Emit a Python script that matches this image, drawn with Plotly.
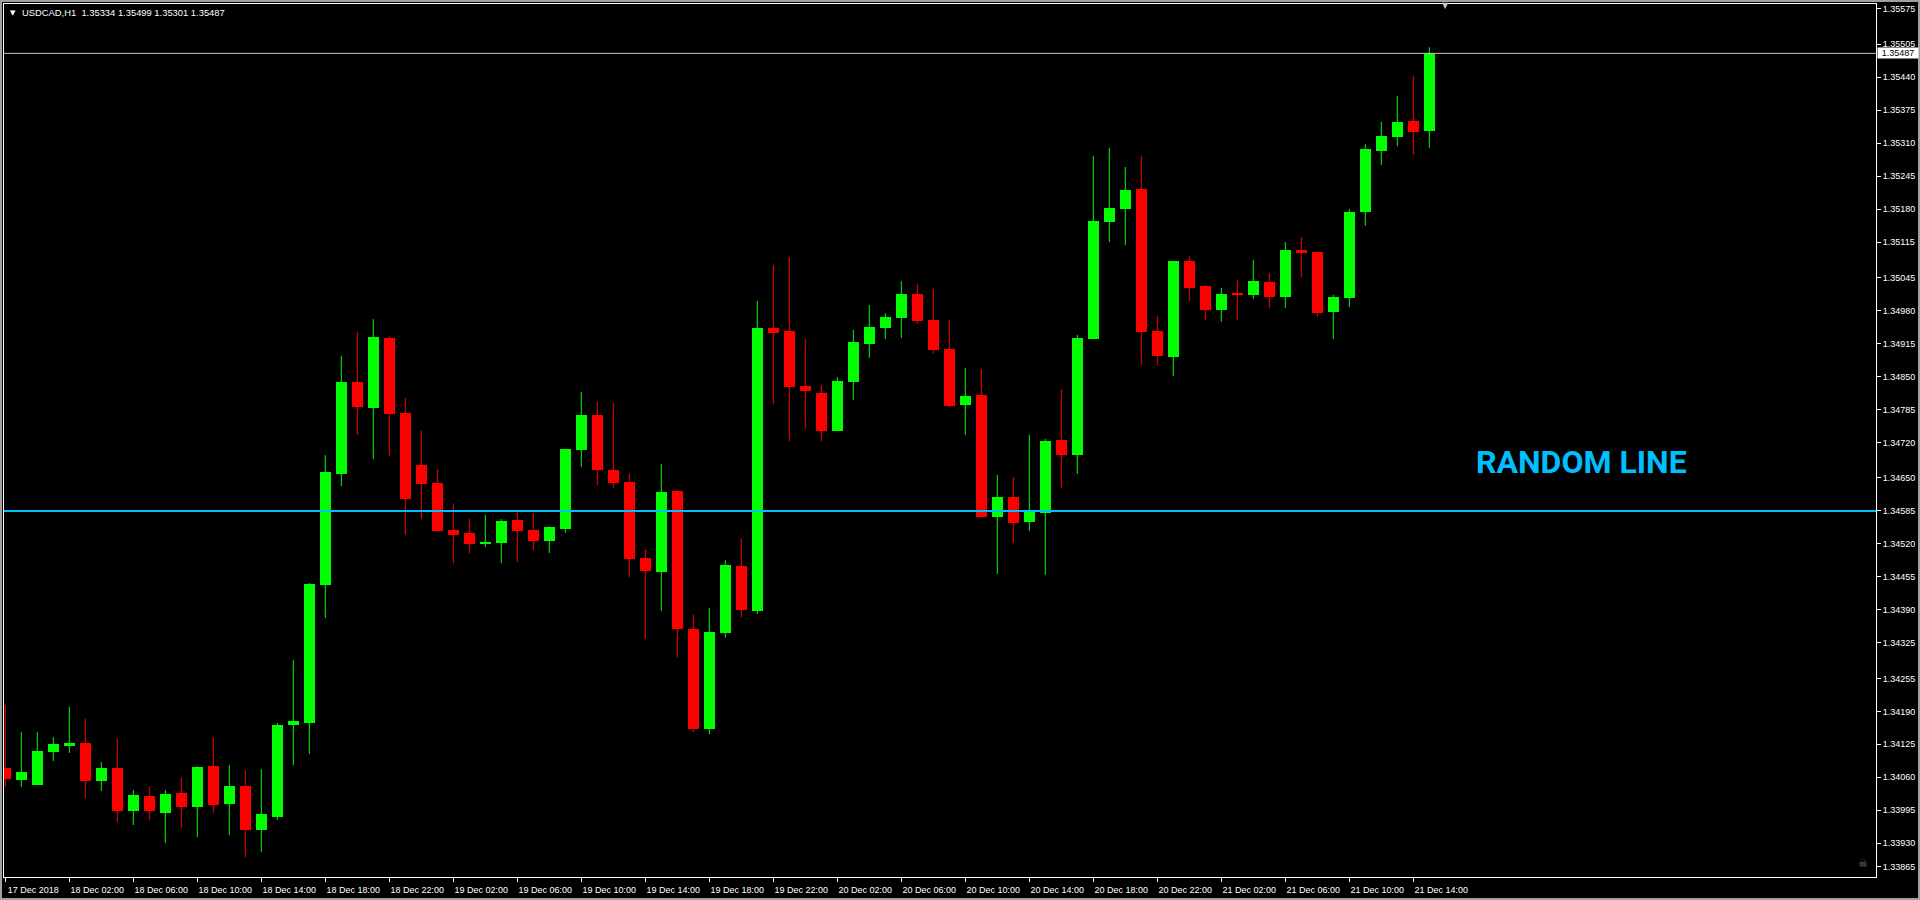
import pandas as pd
import plotly.graph_objects as go

symbol = "USDCAD,H1"
first_bar = "2018-12-17 22:00"

opens = [
    1.34078, 1.34055, 1.34045, 1.34110, 1.34122, 1.34128, 1.34053, 1.34078, 1.33994, 1.34023,
    1.33990, 1.34029, 1.34001, 1.34082, 1.34007, 1.34043, 1.33956, 1.33982, 1.34163, 1.34167,
    1.34439, 1.34658, 1.34839, 1.34788, 1.34926, 1.34778, 1.34676, 1.34640, 1.34548, 1.34542,
    1.34520, 1.34522, 1.34567, 1.34548, 1.34526, 1.34549, 1.34705, 1.34774, 1.34666, 1.34642,
    1.34492, 1.34465, 1.34624, 1.34352, 1.34155, 1.34344, 1.34477, 1.34388, 1.34946, 1.34940,
    1.34831, 1.34818, 1.34743, 1.34839, 1.34914, 1.34946, 1.34965, 1.35013, 1.34961, 1.34904,
    1.34794, 1.34814, 1.34573, 1.34613, 1.34563, 1.34581, 1.34725, 1.34695, 1.34924, 1.35155,
    1.35180, 1.35220, 1.34940, 1.34889, 1.35078, 1.35028, 1.34981, 1.35015, 1.35011, 1.35036,
    1.35007, 1.35099, 1.35096, 1.34977, 1.35005, 1.35174, 1.35295, 1.35322, 1.35354, 1.35334,
]
highs = [
    1.34203, 1.34149, 1.34149, 1.34139, 1.34199, 1.34175, 1.34090, 1.34136, 1.34035, 1.34041,
    1.34035, 1.34059, 1.34082, 1.34138, 1.34084, 1.34074, 1.34076, 1.34167, 1.34291, 1.34443,
    1.34695, 1.34891, 1.34938, 1.34963, 1.34930, 1.34808, 1.34743, 1.34668, 1.34599, 1.34569,
    1.34577, 1.34569, 1.34587, 1.34581, 1.34555, 1.34707, 1.34820, 1.34800, 1.34798, 1.34658,
    1.34510, 1.34678, 1.34626, 1.34380, 1.34394, 1.34488, 1.34530, 1.34999, 1.35070, 1.35085,
    1.34924, 1.34833, 1.34849, 1.34942, 1.34991, 1.34975, 1.35038, 1.35032, 1.35023, 1.34961,
    1.34867, 1.34865, 1.34656, 1.34652, 1.34735, 1.34727, 1.34825, 1.34932, 1.35285, 1.35301,
    1.35263, 1.35285, 1.34969, 1.35078, 1.35088, 1.35030, 1.35025, 1.35040, 1.35080, 1.35054,
    1.35115, 1.35125, 1.35096, 1.35011, 1.35180, 1.35308, 1.35352, 1.35403, 1.35442, 1.35499,
]
lows = [
    1.34041, 1.34041, 1.34045, 1.34092, 1.34108, 1.34019, 1.34033, 1.33972, 1.33966, 1.33976,
    1.33931, 1.33960, 1.33942, 1.33990, 1.33946, 1.33903, 1.33913, 1.33976, 1.34084, 1.34106,
    1.34374, 1.34634, 1.34735, 1.34687, 1.34693, 1.34538, 1.34569, 1.34546, 1.34482, 1.34502,
    1.34514, 1.34482, 1.34484, 1.34508, 1.34502, 1.34542, 1.34672, 1.34636, 1.34630, 1.34455,
    1.34333, 1.34388, 1.34297, 1.34149, 1.34145, 1.34335, 1.34376, 1.34382, 1.34796, 1.34723,
    1.34747, 1.34723, 1.34743, 1.34804, 1.34887, 1.34924, 1.34926, 1.34954, 1.34896, 1.34790,
    1.34735, 1.34573, 1.34461, 1.34522, 1.34546, 1.34459, 1.34630, 1.34658, 1.34924, 1.35115,
    1.35109, 1.34873, 1.34873, 1.34851, 1.34999, 1.34961, 1.34958, 1.34961, 1.35003, 1.34985,
    1.34985, 1.35046, 1.34967, 1.34924, 1.34987, 1.35147, 1.35267, 1.35304, 1.35287, 1.35301,
]
closes = [
    1.34057, 1.34070, 1.34112, 1.34126, 1.34128, 1.34053, 1.34078, 1.33994, 1.34025, 1.33994,
    1.34027, 1.34001, 1.34080, 1.34005, 1.34043, 1.33956, 1.33988, 1.34163, 1.34171, 1.34441,
    1.34662, 1.34839, 1.34790, 1.34928, 1.34776, 1.34609, 1.34638, 1.34546, 1.34538, 1.34520,
    1.34524, 1.34565, 1.34546, 1.34526, 1.34553, 1.34707, 1.34774, 1.34666, 1.34640, 1.34490,
    1.34467, 1.34622, 1.34352, 1.34155, 1.34346, 1.34479, 1.34390, 1.34946, 1.34936, 1.34829,
    1.34822, 1.34743, 1.34841, 1.34918, 1.34948, 1.34967, 1.35013, 1.34959, 1.34902, 1.34792,
    1.34812, 1.34573, 1.34613, 1.34561, 1.34583, 1.34723, 1.34695, 1.34926, 1.35157, 1.35182,
    1.35218, 1.34938, 1.34891, 1.35078, 1.35025, 1.34981, 1.35013, 1.35011, 1.35038, 1.35007,
    1.35099, 1.35094, 1.34975, 1.35007, 1.35174, 1.35299, 1.35324, 1.35352, 1.35332, 1.35487,
]

bid_price = 1.35487
random_line_price = 1.34585
random_line_text = "RANDOM LINE"

y_tick_labels = [
    "1.35575", "1.35505", "1.35440", "1.35375", "1.35310", "1.35245", "1.35180",
    "1.35115", "1.35045", "1.34980", "1.34915", "1.34850", "1.34785", "1.34720",
    "1.34650", "1.34585", "1.34520", "1.34455", "1.34390", "1.34325", "1.34255",
    "1.34190", "1.34125", "1.34060", "1.33995", "1.33930", "1.33865",
]
# MT4 prints the window minimum a bit above the bottom edge
y_tick_values = [float(s) for s in y_tick_labels[:-1]] + [1.33884]

x_tick_labels = [
    "17 Dec 2018",
    "18 Dec 02:00", "18 Dec 06:00", "18 Dec 10:00", "18 Dec 14:00", "18 Dec 18:00", "18 Dec 22:00",
    "19 Dec 02:00", "19 Dec 06:00", "19 Dec 10:00", "19 Dec 14:00", "19 Dec 18:00", "19 Dec 22:00",
    "20 Dec 02:00", "20 Dec 06:00", "20 Dec 10:00", "20 Dec 14:00", "20 Dec 18:00", "20 Dec 22:00",
    "21 Dec 02:00", "21 Dec 06:00", "21 Dec 10:00", "21 Dec 14:00",
]
x_tick_times = [
    "2018-12-17 22:00",
    "2018-12-18 02:00", "2018-12-18 06:00", "2018-12-18 10:00", "2018-12-18 14:00", "2018-12-18 18:00", "2018-12-18 22:00",
    "2018-12-19 02:00", "2018-12-19 06:00", "2018-12-19 10:00", "2018-12-19 14:00", "2018-12-19 18:00", "2018-12-19 22:00",
    "2018-12-20 02:00", "2018-12-20 06:00", "2018-12-20 10:00", "2018-12-20 14:00", "2018-12-20 18:00", "2018-12-20 22:00",
    "2018-12-21 02:00", "2018-12-21 06:00", "2018-12-21 10:00", "2018-12-21 14:00",
]

# page geometry (pixels)
W, H = 1920, 900
PLOT_L, PLOT_R, PLOT_T, PLOT_B = 4, 1876, 4, 877
BAR_PX = 16.0
FIRST_BAR_PX = 5.3
Y_RANGE = [1.338635, 1.355843]

UP = "#00ff00"
DOWN = "#ff0000"
LINE_BLUE = "#00bfff"

times = pd.date_range(first_bar, periods=len(opens), freq="h")
is_up = [c >= o for o, c in zip(opens, closes)]

x_left = times[0] - pd.Timedelta(hours=(FIRST_BAR_PX - PLOT_L) / BAR_PX)
x_right = times[0] + pd.Timedelta(hours=(PLOT_R - FIRST_BAR_PX) / BAR_PX)
body_ms = 11 / BAR_PX * 3600 * 1000


def wick_xy(want_up):
    xs, ys = [], []
    for t, hi, lo, u in zip(times, highs, lows, is_up):
        if u == want_up:
            xs += [t, t, None]
            ys += [lo, hi, None]
    return xs, ys


fig = go.Figure()

for want_up, color in [(True, UP), (False, DOWN)]:
    wx, wy = wick_xy(want_up)
    fig.add_trace(go.Scatter(
        x=wx, y=wy, mode="lines",
        line=dict(color=color, width=1),
        hoverinfo="skip",
    ))

fig.add_trace(go.Bar(
    x=times,
    base=[min(o, c) for o, c in zip(opens, closes)],
    y=[abs(c - o) for o, c in zip(opens, closes)],
    width=body_ms,
    marker=dict(color=[UP if u else DOWN for u in is_up], line=dict(width=0)),
    hoverinfo="skip",
))

fig.add_hline(y=bid_price, line=dict(color="#c0c0c0", width=1))
fig.add_hline(y=random_line_price, line=dict(color=LINE_BLUE, width=2))

plot_w = PLOT_R - PLOT_L
plot_h = PLOT_B - PLOT_T


def px_x(x):
    return (x - PLOT_L) / plot_w


def px_y(y):
    return (PLOT_B - y) / plot_h


# header
fig.add_annotation(
    x=px_x(12.5), y=px_y(13), xref="paper", yref="paper",
    text="▼", showarrow=False, xanchor="center", yanchor="middle",
    font=dict(family="DejaVu Sans", size=7, color="white"),
)
fig.add_annotation(
    x=px_x(20), y=px_y(13), xref="paper", yref="paper",
    text=f"{symbol}  {opens[-1]:.5f} {highs[-1]:.5f} {lows[-1]:.5f} {closes[-1]:.5f}",
    showarrow=False, xanchor="left", yanchor="middle",
    font=dict(family="Liberation Sans", size=9.4, color="white"),
)
# chart shift marker
fig.add_annotation(
    x=px_x(1445), y=px_y(6), xref="paper", yref="paper",
    text="▼", showarrow=False, xanchor="center", yanchor="middle",
    font=dict(family="DejaVu Sans", size=8, color="#c8c8c8"),
)
# object label
fig.add_annotation(
    x=px_x(1581.5), y=px_y(461.5), xref="paper", yref="paper",
    text=random_line_text, showarrow=False, xanchor="center", yanchor="middle",
    font=dict(family="Roboto", size=32, color=LINE_BLUE, weight="bold"),
)
# bid price box on the scale
fig.add_annotation(
    x=1, xref="paper", xanchor="left", xshift=1,
    y=bid_price, yref="y", yanchor="middle",
    text=f"{bid_price:.5f}", showarrow=False,
    width=38, height=8, align="center", valign="middle",
    bgcolor="white", borderpad=1,
    font=dict(family="Liberation Sans", size=9, color="black"),
)
# expert icon
fig.add_annotation(
    x=px_x(1863), y=px_y(863), xref="paper", yref="paper",
    text="☠", showarrow=False, xanchor="center", yanchor="middle",
    font=dict(family="DejaVu Sans", size=11, color="#707070"),
)

# window frame
fig.add_shape(
    type="rect", xref="paper", yref="paper",
    x0=px_x(0), x1=px_x(W), y0=px_y(H), y1=px_y(0),
    line=dict(color="#a0a0a0", width=4), fillcolor="rgba(0,0,0,0)",
)

fig.update_layout(
    width=W, height=H,
    margin=dict(l=PLOT_L, r=W - PLOT_R, t=PLOT_T, b=H - PLOT_B),
    paper_bgcolor="black",
    plot_bgcolor="black",
    showlegend=False,
    bargap=0,
    hovermode=False,
    font=dict(family="Liberation Sans", size=9, color="white"),
    xaxis=dict(
        type="date", range=[x_left, x_right],
        showgrid=False, zeroline=False,
        showline=True, linecolor="white", linewidth=1, mirror=True,
        ticks="outside", ticklen=4, tickcolor="white", tickwidth=1,
        tickvals=x_tick_times, ticktext=x_tick_labels,
        ticklabelshift=28,
        tickfont=dict(family="Liberation Sans", size=9, color="white"),
        fixedrange=True,
    ),
    yaxis=dict(
        side="right", range=Y_RANGE,
        showgrid=False, zeroline=False,
        showline=True, linecolor="white", linewidth=1, mirror=True,
        ticks="outside", ticklen=4, tickcolor="white", tickwidth=1,
        tickvals=y_tick_values, ticktext=y_tick_labels,
        tickfont=dict(family="Liberation Sans", size=9, color="white"),
        fixedrange=True,
    ),
)

fig.write_html(
    "out.html",
    config={"displayModeBar": False},
    post_script="document.body.style.margin='0';document.body.style.overflow='hidden';",
)
